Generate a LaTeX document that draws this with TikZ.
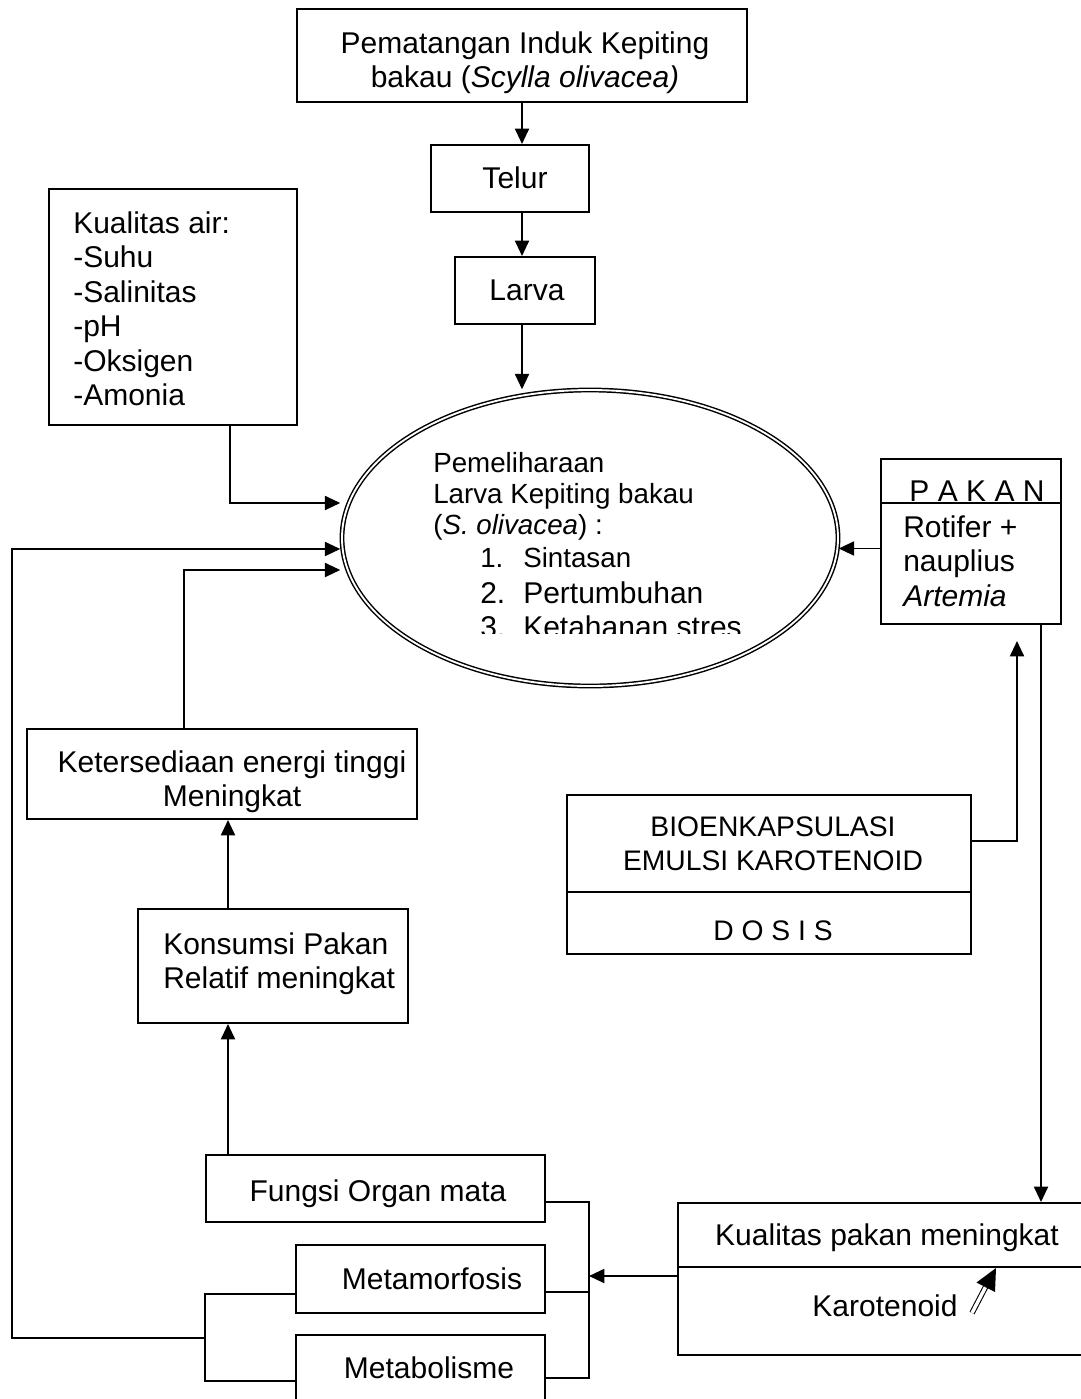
\documentclass[tikz,border=0pt]{standalone}
\usepackage{fontspec}
\setmainfont{Liberation Sans}
\usetikzlibrary{shapes.geometric,arrows.meta,calc,fit}
\newcommand{\fmain}{\fontsize{22.5pt}{25.9pt}\selectfont}
\newcommand{\fsmall}{\fontsize{20.8pt}{23.3pt}\selectfont}
\newcommand{\fbio}{\fontsize{21.2pt}{26.2pt}\selectfont}
\tikzset{
  boxn/.style={draw, line width=1.5pt, inner sep=0pt, fit={#1}},
  arr/.style={line width=1.45pt, -{Triangle[length=11.5pt,width=10.5pt]}},
  ln/.style={line width=1.45pt},
  divl/.style={line width=1.5pt},
  txt/.style={inner sep=0pt, font=\fmain},
  stxt/.style={inner sep=0pt, font=\fsmall},
}
\begin{document}
\begin{tikzpicture}[x=0.75pt,y=-0.75pt]
\clip (0,0) rectangle (1081,1399);
\fill[white] (0,0) rectangle (1081,1399);

% top chain
\node[boxn={(297,9)(747,102)}] (induk) {};
\node[txt, anchor=north, align=center] (indukt) at (525,31) {Pematangan Induk Kepiting\\bakau (\textit{Scylla olivacea)}};
\node[boxn={(431,145)(589,212)}] (telur) {};
\node[txt, anchor=base] (telurt) at (515,188) {Telur};
\node[boxn={(455,257)(595,324)}] (larva) {};
\node[txt, anchor=base] (larvat) at (527,300) {Larva};

% ellipse
\node[ellipse, draw, double, line width=1.1pt, double distance=1.4pt,
      minimum width=372pt, minimum height=222pt, inner sep=0pt] (ell) at (590,538) {};
\begin{scope}
\clip (400,440) rectangle (800,633);
\node[stxt, anchor=base west] (e1) at (433,472) {Pemeliharaan};
\node[stxt, anchor=base west] (e2) at (433,503) {Larva Kepiting bakau};
\node[stxt, anchor=base west] (e3) at (433,534) {(\textit{S. olivacea}) :};
\node[stxt, anchor=base west] (e4n) at (480,567) {1.};
\node[stxt, anchor=base west] (e4) at (523,567) {Sintasan};
\node[txt, anchor=base west] (e5n) at (480,603) {2.};
\node[txt, anchor=base west] (e5) at (523,603) {Pertumbuhan};
\node[txt, anchor=base west] (e6n) at (480,637) {3.};
\node[txt, anchor=base west] (e6) at (523,637) {Ketahanan stres};
\end{scope}

% water quality
\node[boxn={(49,189)(297,425)}] (kair) {};
\node[txt, anchor=north west, align=left] (kairt) at (73,211) {Kualitas air:\\-Suhu\\-Salinitas\\-pH\\-Oksigen\\-Amonia};

% PAKAN
\node[boxn={(881,459)(1061,624)}] (pakan) {};
\draw[divl] ($(pakan.north west)+(0,45)$) -- ($(pakan.north east)+(0,45)$);
\node[txt, anchor=base] (pakant) at (977,501) {P A K A N};
\node[txt, anchor=north west, align=left] (pakanl) at (903,515) {Rotifer +\\nauplius\\\textit{Artemia}};

% left chain
\node[boxn={(27,729)(417,819)}] (keter) {};
\node[txt, anchor=north, align=center] (tert) at (232,750) {Ketersediaan energi tinggi\\Meningkat};
\node[boxn={(138,909)(408,1023)}] (konsumsi) {};
\node[txt, anchor=north west, align=left] (konst) at (163,932) {Konsumsi Pakan\\Relatif meningkat};
\node[boxn={(206,1155)(545,1222)}] (fungsi) {};
\node[txt, anchor=base] (fungsit) at (378,1201) {Fungsi Organ mata};
\node[boxn={(296,1245)(545,1313)}] (metamorf) {};
\node[txt, anchor=base] (metamorft) at (432,1289) {Metamorfosis};
\node[boxn={(296,1335)(545,1430)}] (metabol) {};
\node[txt, anchor=base] (metabolt) at (429,1378) {Metabolisme};

% bioencapsulation
\node[boxn={(567,795)(971,954)}] (bio) {};
\draw[divl] ($(bio.north west)+(0,98)$) -- ($(bio.north east)+(0,98)$);
\node[inner sep=0pt, font=\fbio, anchor=north, align=center] (biot) at (773,816) {BIOENKAPSULASI\\EMULSI KAROTENOID};
\node[inner sep=0pt, font=\fbio, anchor=base] (dosis) at (773,940) {D O S I S};

% feed quality
\node[boxn={(678,1203)(1100,1355)}] (kpakan) {};
\draw[divl] ($(kpakan.north west)+(0,65)$) -- ($(kpakan.north east)+(0,65)$);
\node[txt, anchor=base] (kpakant) at (887,1245) {Kualitas pakan meningkat};
\node[txt, anchor=base] (karot) at (885,1316) {Karotenoid};
\coordinate (kdt) at (972,1313);
\coordinate (kdb) at (985.7,1286.7);
\coordinate (kdtip) at (996,1268);
\draw[double, line width=0.8pt, double distance=2.6pt] (kdt) -- ($(kdt)!1.05!(kdb)$);
\fill (kdtip) -- (995,1292) -- (976.5,1282.5) -- cycle;

% connectors: top chain
\draw[arr] (induk.south) -- (induk.south |- telur.north);
\draw[arr] (induk.south |- telur.south) -- (induk.south |- larva.north);
\draw[arr] (induk.south |- larva.south) -- (induk.south |- ell.north);

% water quality -> ellipse
\coordinate (ka) at ($(kair.south east)+(-68,0)$);
\coordinate (ke) at ($(ell.west)+(-1,-35)$);
\draw[arr] (ka) |- (ke);

% PAKAN -> ellipse
\coordinate (pw) at ($(pakan.west)+(0,7)$);
\draw[arr] (pw) -- (pw -| ell.east);

% PAKAN -> feed quality
\coordinate (pd) at ($(pakan.south east)+(-21,0)$);
\draw[arr] (pd) -- (pd |- kpakan.north);

% bio -> PAKAN
\coordinate (bo) at ($(bio.north east)+(0,47)$);
\coordinate (pk) at ($(pakan.south east)+(-45,16)$);
\draw[arr] (bo) -| (pk);

% right bracket
\coordinate (r1) at ($(fungsi.south east)+(0,-21)$);
\coordinate (r2) at ($(metamorf.south east)+(0,-22)$);
\coordinate (r3) at ($(metabol.north east)+(0,44)$);
\coordinate (rb) at ($(r1)+(43,0)$);
\draw[ln] (r1) -- (rb) |- (r3);
\draw[ln] (r2) -- (r2 -| rb);
\coordinate (kp) at ($(kpakan.north west)+(0,74)$);
\draw[arr] (kp) -- (kp -| rb);

% left chain arrows
\coordinate (fu) at ($(fungsi.north west)+(23,0)$);
\draw[arr] (fu) -- (fu |- konsumsi.south);
\coordinate (ko) at ($(konsumsi.north west)+(91,0)$);
\draw[arr] (ko) -- (ko |- keter.south);
\coordinate (kt1) at ($(keter.north west)+(158,0)$);
\coordinate (le2) at ($(ell.west)+(-1,32)$);
\draw[arr] (kt1) |- (le2);

% left bracket and loop
\coordinate (lb1) at ($(metamorf.south west)+(0,-20)$);
\coordinate (lb2) at ($(metabol.north west)+(0,47)$);
\coordinate (lbx) at ($(lb1)+(-90,0)$);
\draw[ln] (lb1) -- (lbx) |- (lb2);
\coordinate (lbj) at ($(lb1)+(-90,44)$);
\coordinate (le) at ($(ell.west)+(-1,11)$);
\draw[arr] (lbj) -- ++(-193,0) |- (le);
\end{tikzpicture}
\end{document}
